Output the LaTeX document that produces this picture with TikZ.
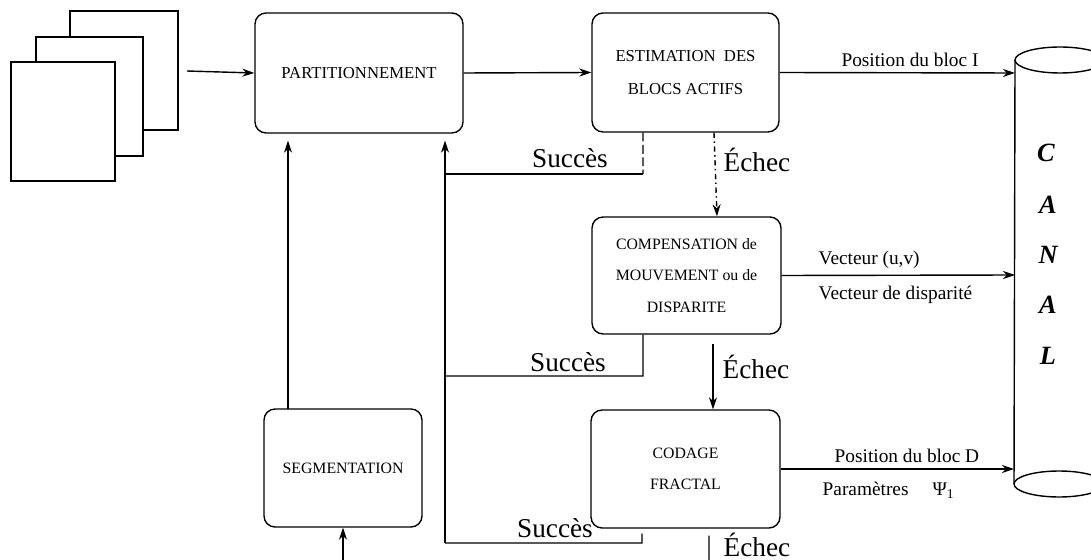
\documentclass[tikz,border=0pt]{standalone}
\usepackage{fontspec}
\setmainfont{Liberation Serif}
\usetikzlibrary{arrows.meta,calc}
\begin{document}
\begin{tikzpicture}[x=0.02cm,y=-0.02cm,line width=0.8pt,
  arr/.style={-{Stealth[length=2.4mm,width=1.6mm]}},
  blk/.style={draw,rounded corners=0.22cm,align=center,inner sep=0pt,
    font=\fontsize{9.5}{18.5}\selectfont},
  lbl/.style={inner sep=0pt,font=\fontsize{11}{13}\selectfont},
  big/.style={inner sep=0pt,font=\fontsize{15.5}{18}\selectfont},
  can/.style={inner sep=0pt,font=\fontsize{15}{18}\selectfont\bfseries\itshape},
  page/.style={draw,fill=white}]
\useasboundingbox (0,0) rectangle (1091,560);
\clip (0,0) rectangle (1091,560);
% stacked pages
\draw[page] (70,11) rectangle (178,130);
\draw[page] (36,37) rectangle (143,156);
\draw[page] (11,62) rectangle (115,181);
\coordinate (pg) at (187,71);
% blocks
\node[blk,minimum width=4.16cm,minimum height=2.4cm] (part) at (359,73) {PARTITIONNEMENT};
\node[blk,minimum width=3.74cm,minimum height=2.38cm] (estim) at (685.5,72.5) {ESTIMATION\ \ DES\\BLOCS ACTIFS};
\node[blk,minimum width=3.78cm,minimum height=2.34cm,font=\fontsize{9}{17.8}\selectfont] (comp) at (686.5,275.5) {COMPENSATION de\\MOUVEMENT ou de\\DISPARITE};
\node[blk,minimum width=3.78cm,minimum height=2.36cm,font=\fontsize{9}{18}\selectfont] (fract) at (685.5,469) {CODAGE\\FRACTAL};
\node[blk,minimum width=3.16cm,minimum height=2.36cm,font=\fontsize{9}{18}\selectfont] (seg) at (343,468) {SEGMENTATION};
% canal cylinder
\draw (1060,60) ellipse [x radius=0.9cm, y radius=0.26cm];
\draw (1059,484) ellipse [x radius=0.9cm, y radius=0.26cm];
\draw (1015,60) -- (1014,484);
\coordinate (cy1) at (1015,73);
\coordinate (cy2) at (1015,275);
\coordinate (cy3) at (1014,469);
\node[can] (c1) at (1046,153) {C};
\node[can] (c2) at (1048,205) {A};
\node[can] (c3) at (1048,255) {N};
\node[can] (c4) at (1048,305) {A};
\node[can] (c5) at (1048,356) {L};
% main flow
\draw[arr] (pg) -- (part.west);
\draw[arr] (part.east) -- (estim.west);
\draw[arr] (estim.east) -- (cy1);
\draw[arr] (comp.east) -- (cy2);
\draw[arr] (fract.east) -- (cy3);
\node[lbl] (l1) at (910,60) {Position du bloc I};
\node[lbl,anchor=west] (l2) at (818,260) {Vecteur (u,v)};
\node[lbl,anchor=west] (l3) at (818,295) {Vecteur de disparité};
\node[lbl,anchor=west] (l4) at (834,456) {Position du bloc D};
\node[lbl,anchor=west] (l5) at (822,490) {Paramètres\quad\ Ψ\textsubscript{1}};
% success returns
\coordinate (ret) at (445,543);
\coordinate (j1) at (445,174);
\coordinate (j2) at (445,376);
\coordinate (k1) at (643,174);
\coordinate (k2) at (643,376);
\coordinate (k3) at (642,543);
\draw[dashed,dash pattern=on 5pt off 2pt] ([xshift=-0.85cm]estim.south) -- (k1);
\draw (k1) -- (j1);
\draw ([xshift=-0.87cm]comp.south) -- (k2) -- (j2);
\draw[shorten <=0.1cm] ([xshift=-0.87cm]fract.south) -- (k3) -- (ret);
\draw[arr,shorten >=0.14cm] (ret) -- (ret |- part.south);
\coordinate (sg) at (288,409);
\draw[arr,shorten >=0.14cm] (sg) -- (sg |- part.south);
\coordinate (sb) at (343,570);
\draw[arr] (sb) -- (seg.south);
\node[big] (s1) at (570,158) {Succès};
\node[big] (s2) at (568,362) {Succès};
\node[big] (s3) at (555,528) {Succès};
% failures
\draw[arr,dash dot] ([xshift=0.57cm]estim.south) -- ([xshift=0.61cm]comp.north);
\draw[arr,shorten <=0.18cm] ([xshift=0.53cm]comp.south) -- ([xshift=0.55cm]fract.north);
\coordinate (e3) at (709,570);
\draw[shorten <=0.14cm] ([xshift=0.47cm]fract.south) -- (e3);
\node[big,anchor=west] (f1) at (723,160) {Échec};
\node[big,anchor=west] (f2) at (722,367) {Échec};
\node[big,anchor=base west] (f3) at (723,556) {Échec};
\end{tikzpicture}
\end{document}
